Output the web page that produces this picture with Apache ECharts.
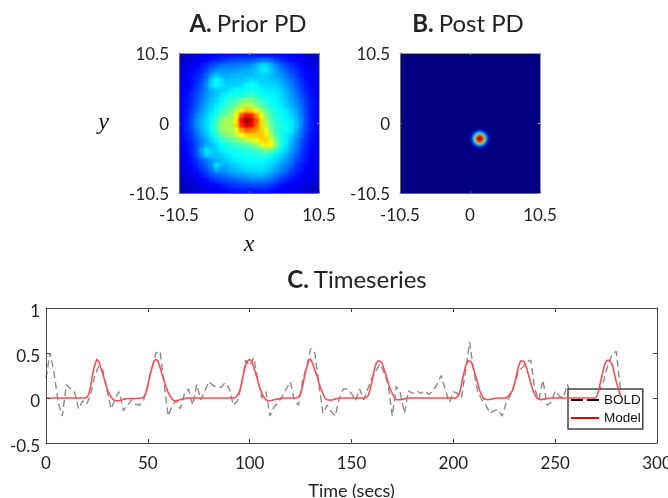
<!DOCTYPE html>
<html><head><meta charset="utf-8">
<style>html,body{margin:0;padding:0;background:#fff}
#clip{position:absolute;left:0;top:0;width:668px;height:498px;background:linear-gradient(90deg,#0018c8 0 360px,#00008a 360px);clip-path:path('M179 53h140v140h-140z M400 53h140v140h-140z')}
#heat{width:668px;height:498px;filter:blur(1.2px)}
#c{position:absolute;left:0;top:0;width:668px;height:498px;filter:blur(.5px)}</style>
<script src="https://cdn.jsdelivr.net/npm/echarts@6/dist/echarts.min.js"></script>
</head><body><div id="clip"><div id="heat"></div></div><div id="c"></div>
<script>
const priorPD = [
[6,7,8,9,10,11,12,13,14,14,15,15,15,15,15,15,15,15,15,14,14,13,12,11,10,9,8,7],
[7,8,9,10,12,13,15,16,17,18,19,20,20,20,21,22,24,24,22,19,17,15,14,13,11,10,9,8],
[8,9,10,12,14,16,19,21,23,24,24,24,25,26,27,30,34,34,30,25,22,19,17,15,13,11,10,9],
[9,10,12,14,16,19,23,26,27,27,27,28,29,29,30,32,35,36,32,28,25,22,19,17,14,12,11,10],
[9,11,13,15,18,22,28,32,30,29,30,30,31,31,31,32,33,33,31,29,27,24,21,18,15,13,12,10],
[10,12,14,16,19,24,33,37,35,31,32,32,32,33,35,34,33,33,32,31,29,26,23,20,17,14,12,11],
[10,12,14,17,21,26,34,38,35,33,33,33,34,37,39,37,35,34,34,33,31,28,25,21,18,15,13,11],
[11,13,15,18,22,26,30,32,33,34,36,38,37,38,39,38,37,36,35,35,33,30,26,23,19,16,14,12],
[11,13,16,19,23,27,30,32,35,37,39,39,40,42,44,42,39,38,37,36,34,31,28,24,20,17,14,12],
[12,14,16,20,24,28,31,34,37,40,42,45,48,51,50,46,43,40,38,37,35,32,29,26,22,18,15,13],
[12,14,17,21,25,29,33,36,39,42,45,48,53,56,55,50,45,42,39,37,36,33,30,27,23,18,15,13],
[13,15,18,22,27,31,34,38,42,45,48,56,64,68,66,60,54,47,42,39,37,35,32,29,24,19,15,13],
[13,15,19,24,29,33,36,40,45,49,52,62,78,86,84,74,62,50,44,40,38,36,34,30,25,19,15,13],
[13,16,20,26,30,33,37,43,50,54,54,64,88,98,92,80,66,53,45,41,39,37,35,31,26,20,15,13],
[13,16,20,26,30,34,38,45,52,54,54,66,84,92,88,78,66,56,47,42,40,38,36,32,25,19,15,13],
[13,16,19,24,29,33,38,44,51,54,54,60,72,78,76,72,67,60,50,43,40,38,36,30,24,19,15,13],
[12,15,18,23,27,31,36,41,46,50,52,56,61,65,67,68,68,64,53,44,39,36,33,28,23,18,14,12],
[12,14,17,21,25,29,33,37,41,44,46,48,51,55,58,62,66,67,60,48,40,36,31,26,21,17,14,12],
[11,13,16,20,25,30,31,34,38,40,42,43,45,46,48,52,58,64,61,49,40,35,30,25,20,16,13,12],
[11,13,16,20,29,35,33,33,36,38,39,39,40,41,42,44,46,49,47,42,37,33,28,24,19,15,13,11],
[10,12,15,19,26,33,32,31,33,35,37,38,38,39,39,40,41,41,39,36,33,30,26,22,18,15,12,11],
[10,11,14,17,21,24,27,30,31,33,35,36,37,38,38,38,38,37,35,33,30,27,24,20,17,14,12,10],
[9,11,13,15,19,22,27,35,31,30,32,33,35,36,36,36,36,35,33,31,28,25,22,18,15,13,11,10],
[9,10,12,14,17,20,23,29,27,28,29,31,32,33,34,34,35,33,31,28,25,23,19,17,14,12,11,9],
[8,9,10,12,14,17,20,22,23,24,26,27,28,29,30,30,31,29,27,24,22,19,17,15,12,11,10,9],
[7,8,9,10,12,14,16,18,19,20,21,22,23,24,25,25,25,24,22,20,18,16,14,12,11,10,9,8],
[6,7,8,9,10,11,12,13,15,16,17,18,19,19,20,20,19,19,18,16,14,13,12,11,10,9,8,7],
[5,6,7,8,9,10,11,11,12,13,14,14,15,15,15,15,15,15,14,13,12,12,11,10,9,8,7,6]
];
const postGridSize = 70, postSpotCol = 35, postSpotRow = 38;
const postSpot = [
[0,0,1,3,6,6,3,1,0,0],
[0,2,8,18,26,26,18,8,2,0],
[1,8,26,40,52,52,40,26,8,1],
[3,18,40,68,84,84,68,40,18,3],
[6,26,52,84,98,98,84,52,26,6],
[6,26,52,84,98,98,84,52,26,6],
[3,18,40,68,84,84,68,40,18,3],
[1,8,26,40,52,52,40,26,8,1],
[0,2,8,18,26,26,18,8,2,0],
[0,0,1,3,6,6,3,1,0,0]
];
const boldStep = 2;
const boldV = [.22,.5,.27,-.05,-.2,.15,.1,.07,-.12,-.03,-.07,.05,.25,.36,.3,.08,-.12,0,.07,-.14,-.08,-.02,-.07,-.08,-.02,.14,.33,.5,.52,.15,-.2,-.08,-.03,-.12,.05,.1,-.08,.15,-.02,.08,.18,.14,.12,.12,.17,.1,-.08,-.03,.14,.42,.36,.45,.2,0,.07,-.2,-.1,-.05,.02,.1,.18,-.03,-.08,.2,.35,.55,.5,.15,-.17,-.08,-.15,-.2,0,.1,.1,.05,-.03,.1,-.02,.1,.22,.3,.38,.28,.15,-.2,.13,.05,-.17,.08,.05,.08,.05,.08,.04,.08,.15,.25,.1,-.05,.07,.05,0,.3,.62,.3,.07,-.02,-.08,-.17,-.14,-.13,-.2,-.05,.03,.15,.3,.34,.4,.42,.1,-.02,.2,-.08,-.05,.08,.02,0,.15,.02,0,.02,0,.03,0,.02,.1,.2,.38,.48,.52,.1];
const modelT = [0,19,20,21,22,23,24,25,26,27,28,29,30,31,32,33,34,36,38,40,44,47,48,49,50,51,52,53,54,55,56,57,58,59,60,61,62,63,65,67,70,92,93,94,95,96,97,98,99,100,101,102,103,104,105,106,107,108,109,111,114,117,123,124,125,126,127,128,129,130,131,132,133,134,135,136,137,138,140,142,145,157,158,159,160,161,162,163,164,165,166,167,168,169,170,171,172,174,176,178,201,202,203,204,205,206,207,208,209,210,211,212,213,214,215,217,219,222,226,227,228,229,230,231,232,233,234,235,236,237,238,239,240,241,243,245,248,270,271,272,273,274,275,276,277,278,279,280,281,282];
const modelV = [0,0,.005,.04,.14,.28,.37,.43,.4,.33,.26,.18,.1,.05,.01,-.015,-.03,-.03,-.015,-.005,-.005,0,.01,.05,.14,.25,.33,.41,.43,.41,.34,.26,.19,.12,.06,.02,-.015,-.03,-.025,-.01,0,0,.005,.03,.07,.16,.27,.37,.41,.43,.41,.34,.27,.19,.11,.05,.01,-.02,-.03,-.025,-.01,0,0,.01,.05,.13,.25,.34,.42,.43,.38,.31,.25,.17,.1,.05,0,-.02,-.025,-.01,0,0,.02,.08,.18,.29,.38,.41,.41,.39,.32,.25,.17,.1,.05,.01,-.02,-.02,-.01,0,0,.01,.05,.15,.26,.35,.41,.41,.39,.32,.24,.16,.08,.03,-.01,-.02,-.01,0,0,.02,.05,.08,.15,.25,.35,.41,.41,.4,.33,.25,.17,.09,.04,0,-.02,-.01,0,0,.05,.15,.25,.35,.41,.42,.41,.37,.28,.18,.1,.03];
const jet = ['#000080','#0000ff','#0080ff','#00ffff','#80ff80','#ffff00','#ff8000','#ff0000','#800000'];
const heatTicks = {min:-10.5,max:10.5,interval:10.5};
const font = 'Lato', ink = '#222';

function cells(rows){const o=[];rows.forEach((r,y)=>r.forEach((v,x)=>o.push([x,y,v])));return o;}
function postCells(){const o=[];for(let y=0;y<postGridSize;y++)for(let x=0;x<postGridSize;x++){
  const r=postSpot[y-postSpotRow];const v=r&&r[x-postSpotCol]!==undefined?r[x-postSpotCol]:0;o.push([x,y,v]);}return o;}
function cats(n){return Array.from({length:n},(_,i)=>i);}
function catAxis(gridIndex,n,inv){return {type:'category',gridIndex,data:cats(n),show:false,inverse:!!inv};}
function valAxis(gridIndex,pos,range,col,len,labelMargin,extra,lift){return Object.assign({type:'value',gridIndex,position:pos,z:5,...range,
  axisLine:{show:true,onZero:false,lineStyle:{color:col,width:1}},
  axisTick:{show:true,inside:true,length:len,lineStyle:{color:col,width:1}},
  splitLine:{show:false},
  axisLabel:{show:labelMargin>0,color:ink,fontFamily:font,fontSize:17,margin:labelMargin,showMinLabel:true,showMaxLabel:true,
    formatter:'{a|{value}}',rich:{a:{fontFamily:font,fontSize:17,color:ink,padding:[lift||0,0,0,0]}}}},extra||{});}
const symbolName = {nameLocation:'middle',nameRotate:0,nameTextStyle:{fontFamily:'Liberation Serif',fontStyle:'italic',fontSize:24,color:'#111'}};
function title(a,b,x,y){return {text:'{b|'+a+'} {n|'+b+'}',left:x,top:y,textAlign:'center',textStyle:{fontWeight:'normal',rich:{
  b:{fontFamily:font,fontWeight:'bold',fontSize:24,color:ink},n:{fontFamily:font,fontWeight:'normal',fontSize:24,color:ink}}}};}

const rC={min:0,max:300,interval:50}, rCy={min:-0.5,max:1,interval:0.5};
const plotA={left:179,top:53,width:140,height:140,outerBoundsMode:'none'}, plotB={left:400,top:53,width:140,height:140,outerBoundsMode:'none'}, plotC={left:46,top:308,width:611,height:135,outerBoundsMode:'none'};

echarts.init(document.getElementById('heat')).setOption({
 animation:false,
 grid:[plotA,plotB],
 xAxis:[catAxis(0,28),catAxis(1,postGridSize)],
 yAxis:[catAxis(0,28,true),catAxis(1,postGridSize,true)],
 visualMap:[{type:'continuous',show:false,seriesIndex:[0,1],dimension:2,min:0,max:100,inRange:{color:jet}}],
 series:[
  {type:'heatmap',xAxisIndex:0,yAxisIndex:0,data:cells(priorPD),silent:true},
  {type:'heatmap',xAxisIndex:1,yAxisIndex:1,data:postCells(),silent:true}
 ]
});

echarts.init(document.getElementById('c')).setOption({
 animation:false,
 title:[title('A.','Prior PD',243,7),title('B.','Post PD',463,7),title('C.','Timeseries',352,263)],
 grid:[plotA,plotB,plotC],
 xAxis:[
  valAxis(0,'bottom',heatTicks,'#666',2,14,{name:'x',nameGap:40,...symbolName}),
  valAxis(0,'top',heatTicks,'#999',2,0),
  valAxis(1,'bottom',heatTicks,'#666',2,14),
  valAxis(1,'top',heatTicks,'#999',2,0),
  valAxis(2,'bottom',rC,'#444',4,12,{name:'Time (secs)',nameLocation:'middle',nameGap:39,nameTextStyle:{fontFamily:font,fontSize:18,color:ink}}),
  valAxis(2,'top',rC,'#444',4,0)
 ],
 yAxis:[
  valAxis(0,'left',heatTicks,'#666',2,10,{name:'y',nameGap:70,...symbolName},4),
  valAxis(0,'right',heatTicks,'#999',2,0),
  valAxis(1,'left',heatTicks,'#666',2,10,null,4),
  valAxis(1,'right',heatTicks,'#999',2,0),
  valAxis(2,'left',rCy,'#444',4,6,null,8),
  valAxis(2,'right',rCy,'#444',4,0)
 ],
 legend:{left:568,top:389,orient:'vertical',itemWidth:28,itemHeight:14,itemGap:4,padding:[4,2,4,3],
  backgroundColor:'#fff',borderColor:'#444',borderWidth:1.5,
  textStyle:{fontFamily:'Liberation Sans',fontSize:13.5,color:'#111'},
  data:[{name:'BOLD',icon:'path://M0 5h12v2H0zM16 5h12v2H16z',itemStyle:{color:'#000'}},{name:'Model',icon:'path://M0 5h28v2H0z',itemStyle:{color:'#f00000'}}]},
 series:[
  {type:'line',name:'BOLD',xAxisIndex:4,yAxisIndex:4,showSymbol:false,silent:true,
   data:boldV.map((v,i)=>[i*boldStep,v]),lineStyle:{color:'#8a8a8a',width:1.4,type:[7,4]},itemStyle:{color:'#8a8a8a'},z:3},
  {type:'line',name:'Model',xAxisIndex:4,yAxisIndex:4,showSymbol:false,silent:true,
   data:modelT.map((t,i)=>[t,modelV[i]]),lineStyle:{color:'#f55058',width:1.6},itemStyle:{color:'#f55058'},z:4}
 ]
});
</script></body></html>
